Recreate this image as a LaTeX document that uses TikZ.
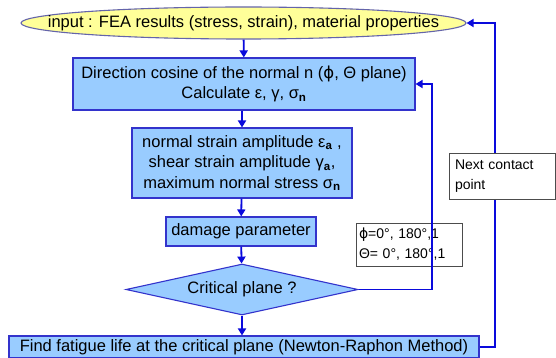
\documentclass[tikz,border=0pt]{standalone}
\usepackage{fontspec}
\setmainfont{Liberation Sans}
\newfontfamily\gr{DejaVu Sans}
\usetikzlibrary{shapes.geometric,arrows.meta}
\definecolor{boxfill}{RGB}{153,204,255}
\definecolor{boxdraw}{RGB}{51,51,204}
\definecolor{ellfill}{RGB}{255,255,153}
\definecolor{elldraw}{RGB}{100,100,170}
\definecolor{flow}{RGB}{10,10,220}
\newcommand{\sub}[1]{\textsubscript{\textbf{#1}}}
\tikzset{
  base/.style={inner sep=0pt, font=\fontsize{16.5}{20.5}\selectfont},
  box/.style={base, rectangle, draw=boxdraw, fill=boxfill, line width=1.1pt, align=center},
  ell/.style={base, ellipse, draw=elldraw, fill=ellfill, line width=1.1pt},
  dia/.style={base, diamond, aspect=4.5, draw=boxdraw, fill=boxfill, line width=1.1pt},
  note/.style={inner sep=0pt, rectangle, draw=black!70, fill=white, line width=0.8pt, align=left, font=\fontsize{14}{20}\selectfont},
  flowline/.style={draw=flow, line width=1.8pt, -{Triangle[length=7pt,width=8pt]}},
}
\begin{document}
\begin{tikzpicture}[x=1pt,y=-1pt]
\useasboundingbox (0,0) rectangle (556,358);
\fill[white] (0,0) rectangle (556,358);
\node[ell, minimum width=445pt, minimum height=32pt] (in) at (243.5,23) {};
\node[base] (intext) at (in.center) {input : FEA results (stress, strain), material properties};
\node[box, minimum width=342pt, minimum height=52pt] (dc) at (244,84) {Direction cosine of the normal n ({\gr ϕ}, Θ plane)\\Calculate ε, γ, σ\sub{n}};
\node[box, minimum width=220pt, minimum height=70pt] (amp) at (242,163) {normal strain amplitude ε\sub{a} ,\\shear strain amplitude γ\sub{a},\\maximum normal stress σ\sub{n}};
\node[box, minimum width=150pt, minimum height=29pt] (dmg) at (241,231.5) {damage parameter};
\node[dia, minimum width=232pt, minimum height=51pt] (crit) at (242,289.5) {Critical plane ?};
\node[box, minimum width=470pt, minimum height=22pt] (life) at (244,347) {Find fatigue life at the critical plane (Newton-Raphon Method)};
\node[note, minimum width=106pt, minimum height=43pt, text width=100pt] (ang) at (409,244.5) {{\gr ϕ}=0°, 180°,1\\Θ= 0°, 180°,1};
\coordinate (ia) at (432,289.5);
\coordinate (ib) at (432,84);
\coordinate (oa) at (495,347);
\coordinate (ob) at (495,23);
\draw[flowline] (in) -- (dc);
\draw[flowline] (dc.south -| amp.north) -- (amp);
\draw[flowline] (amp) -- (dmg);
\draw[flowline] (dmg) -- (crit);
\draw[flowline] (crit) -- (crit.south |- life.north);
\draw[flowline] (crit.east) -- (ia) -- (ib) -- (dc.east);
\draw[flowline] (life.east) -- (oa) -- (ob) -- (in.east);
\node[note, minimum width=106pt, minimum height=46pt, text width=94pt] (next) at (502,176) {Next contact\\point};
\end{tikzpicture}
\end{document}
